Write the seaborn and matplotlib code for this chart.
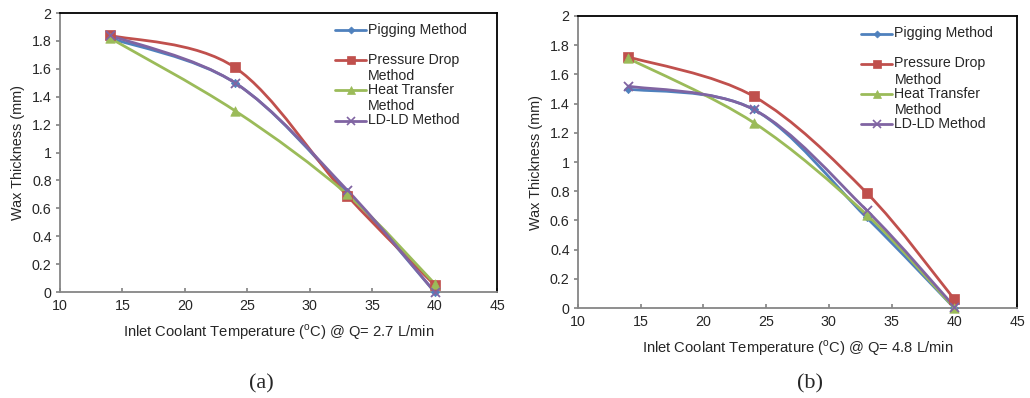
import numpy as np
import pandas as pd
import matplotlib
matplotlib.use("Agg")
import matplotlib.pyplot as plt
import seaborn as sns
from matplotlib.path import Path
from matplotlib.patches import PathPatch
from matplotlib.lines import Line2D
from matplotlib.transforms import Affine2D

# ---------------- data ----------------
temps = [14, 24, 33, 40]
methods = ["Pigging Method", "Pressure Drop Method", "Heat Transfer Method", "LD-LD Method"]
legend_labels = ["Pigging Method\n ", "Pressure Drop\nMethod", "Heat Transfer\nMethod", "LD-LD Method\n "]

# panel (a): Q = 2.7 L/min
a_pigging = [1.82, 1.50, 0.72, 0.00]
a_pressure = [1.84, 1.61, 0.69, 0.05]
a_heat = [1.82, 1.30, 0.70, 0.06]
a_ldld = [1.84, 1.50, 0.73, 0.00]

# panel (b): Q = 4.8 L/min
b_pigging = [1.50, 1.36, 0.62, 0.00]
b_pressure = [1.72, 1.45, 0.79, 0.06]
b_heat = [1.71, 1.27, 0.64, 0.00]
b_ldld = [1.52, 1.36, 0.67, 0.01]

x_ticks = [10, 15, 20, 25, 30, 35, 40, 45]
y_ticks = [0, 0.2, 0.4, 0.6, 0.8, 1, 1.2, 1.4, 1.6, 1.8, 2]

# ---------------- style ----------------
sns.set_theme(style="white")
plt.rcParams["font.family"] = ["Liberation Sans", "DejaVu Sans"]
plt.rcParams["mathtext.fontset"] = "custom"
plt.rcParams["mathtext.rm"] = "Liberation Sans"

colors = ["#4F81BD", "#C0504D", "#9BBB59", "#8064A2"]
markers = ["D", "s", "^", "x"]
msizes = [4.2, 6.5, 6.8, 6.5]


def smooth_path(xs, ys):
    """Excel-like smoothed line (Catmull-Rom Bezier) through the data points."""
    p = np.column_stack([xs, ys]).astype(float)
    n = len(p)
    verts = [p[0]]
    codes = [Path.MOVETO]
    for i in range(n - 1):
        p0 = p[i - 1] if i > 0 else p[i]
        p1 = p[i]
        p2 = p[i + 1]
        p3 = p[i + 2] if i + 2 < n else p[i + 1]
        c1 = p1 + (p2 - p0) / 6.0
        c2 = p2 - (p3 - p1) / 6.0
        verts += [c1, c2, p2]
        codes += [Path.CURVE4] * 3
    return Path(verts, codes)


def draw_panel(ax, series, xlabel, legend_anchor):
    for vals, c, m, ms in zip(series, colors, markers, msizes):
        patch = PathPatch(smooth_path(temps, vals), facecolor="none", edgecolor=c,
                          lw=2.0, capstyle="round", joinstyle="round", zorder=3)
        ax.add_patch(patch)
        df = pd.DataFrame({"T": temps, "W": vals})
        if m == "x":
            sns.scatterplot(data=df, x="T", y="W", ax=ax, marker="x", s=ms ** 2,
                            color=c, linewidth=1.3, zorder=4, clip_on=False, legend=False)
        else:
            sns.scatterplot(data=df, x="T", y="W", ax=ax, marker=m, s=ms ** 2,
                            color=c, edgecolor=c, linewidth=0.5, zorder=4,
                            clip_on=False, legend=False)

    ax.set_xlim(10, 45)
    ax.set_ylim(0, 2)
    ax.set_xticks(x_ticks)
    ax.set_yticks(y_ticks)
    ax.set_xticklabels([f"{t:g}" for t in x_ticks], fontsize=10.3)
    ax.set_yticklabels([f"{t:g}" for t in y_ticks], fontsize=10.3)
    ax.tick_params(axis="x", direction="in", length=3, color="#868686", pad=5, bottom=True)
    ax.tick_params(axis="y", direction="out", length=3, color="#868686", pad=3, left=True)
    ax.set_xlabel(xlabel, fontsize=10.6, labelpad=7)
    ax.set_ylabel("Wax Thickness (mm)", fontsize=10.4, labelpad=5)

    for side in ["left", "bottom"]:
        ax.spines[side].set_color("#868686")
        ax.spines[side].set_linewidth(1.3)
    for side in ["top", "right"]:
        ax.spines[side].set_color("black")
        ax.spines[side].set_linewidth(1.3)
        ax.spines[side].set_visible(True)

    handles = [Line2D([], [], color=c, marker=m, markersize=ms * 0.85, lw=2.0,
                      markeredgewidth=1.2 if m == "x" else 0.5, markeredgecolor=c)
               for c, m, ms in zip(colors, markers, msizes)]
    leg = ax.legend(handles, legend_labels, loc="upper left", bbox_to_anchor=legend_anchor,
                    frameon=False, fontsize=10.2, handlelength=2.2, handletextpad=0.15,
                    labelspacing=0.0, borderpad=0, borderaxespad=0)
    # align each handle with the first text line of its entry
    for ln in leg.findobj(Line2D):
        ln.set_transform(Affine2D().translate(0, 6.0) + ln.get_transform())
    return leg


fig = plt.figure(figsize=(10.30, 3.98), dpi=100)
ax_a = fig.add_axes([0.0583, 0.2663, 0.4243, 0.7010])
ax_b = fig.add_axes([0.5612, 0.2261, 0.4262, 0.7337])

draw_panel(ax_a, [a_pigging, a_pressure, a_heat, a_ldld],
           r"Inlet Coolant Temperature ($^{\mathrm{o}}$C) @ Q= 2.7 L/min", (0.629, 0.965))
draw_panel(ax_b, [b_pigging, b_pressure, b_heat, b_ldld],
           r"Inlet Coolant Temperature ($^{\mathrm{o}}$C) @ Q= 4.8 L/min", (0.645, 0.965))

fig.text(0.2534, 0.035, "(a)", ha="center", va="center", fontsize=16,
         family=["Liberation Serif", "DejaVu Serif"])
fig.text(0.7864, 0.035, "(b)", ha="center", va="center", fontsize=16,
         family=["Liberation Serif", "DejaVu Serif"])

fig.savefig("out.png", dpi=100, facecolor="white")
